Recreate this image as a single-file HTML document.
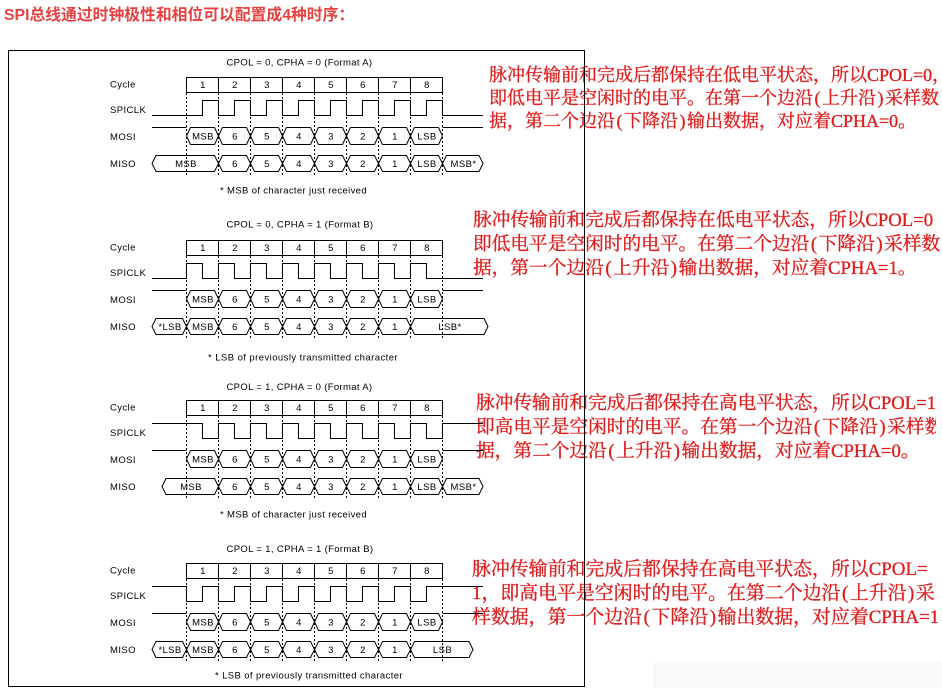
<!DOCTYPE html>
<html><head><meta charset="utf-8">
<style>
html,body{margin:0;padding:0;background:#fff;}
body{width:942px;height:688px;position:relative;overflow:hidden;}
.h{position:absolute;left:4px;top:6px;white-space:nowrap;font-family:"Liberation Sans","Noto Sans CJK SC",sans-serif;font-weight:bold;font-size:15.8px;line-height:20px;color:#e8413f;}
.r{position:absolute;white-space:nowrap;overflow:hidden;font-family:"Liberation Serif","Noto Serif CJK SC",serif;color:#e11d1d;-webkit-text-stroke:0.35px #e11d1d;line-height:24px;height:24px;}
.r .p{display:inline-block;width:0.5em;text-align:center;}
.b1{font-size:18px;left:489px;width:460px;}
.b2{font-size:18.7px;left:473px;width:470px;}
.b3{font-size:18.7px;left:476px;width:460px;}
.b4{font-size:18.9px;left:472px;width:466px;}
svg{position:absolute;left:0;top:0;}
svg text{font-family:"Liberation Sans",sans-serif;font-size:9.5px;fill:#000;letter-spacing:0.4px;}
.w{fill:none;stroke:#000;stroke-width:1;}
</style></head>
<body>
<div class="h">SPI总线通过时钟极性和相位可以配置成4种时序：</div>

<div class="r b1" style="top:63px">脉冲传输前和完成后都保持在低电平状态，所以CPOL=0，</div>
<div class="r b1" style="top:86px">即低电平是空闲时的电平。在第一个边沿<span class="p">(</span>上升沿<span class="p">)</span>采样数</div>
<div class="r b1" style="top:109px">据，第二个边沿<span class="p">(</span>下降沿<span class="p">)</span>输出数据，对应着CPHA=0。</div>

<div class="r b2" style="top:208.6px">脉冲传输前和完成后都保持在低电平状态，所以CPOL=0</div>
<div class="r b2" style="top:232.9px">即低电平是空闲时的电平。在第二个边沿<span class="p">(</span>下降沿<span class="p">)</span>采样数</div>
<div class="r b2" style="top:256.9px">据，第一个边沿<span class="p">(</span>上升沿<span class="p">)</span>输出数据，对应着CPHA=1。</div>

<div class="r b3" style="top:391.6px">脉冲传输前和完成后都保持在高电平状态，所以CPOL=1</div>
<div class="r b3" style="top:415.6px">即高电平是空闲时的电平。在第一个边沿<span class="p">(</span>下降沿<span class="p">)</span>采样数</div>
<div class="r b3" style="top:439.6px">据，第二个边沿<span class="p">(</span>上升沿<span class="p">)</span>输出数据，对应着CPHA=0。</div>

<div class="r b4" style="top:557.6px">脉冲传输前和完成后都保持在高电平状态，所以CPOL=</div>
<div class="r b4" style="top:581.6px">1，即高电平是空闲时的电平。在第二个边沿<span class="p">(</span>上升沿<span class="p">)</span>采</div>
<div class="r b4" style="top:605.6px">样数据，第一个边沿<span class="p">(</span>下降沿<span class="p">)</span>输出数据，对应着CPHA=1</div>

<svg width="942" height="688" viewBox="0 0 942 688">
<defs>
 <path id="ho" d="M0,0 L4,-8.5 H28 L32,0 L28,8.5 H4 Z"/>
 <path id="hi" d="M0,0 L4,-8 H28 L32,0 L28,8 H4 Z"/>
 <g id="m7">
  <use href="#hi" x="0" y="101.5"/><use href="#hi" x="32" y="101.5"/><use href="#hi" x="64" y="101.5"/>
  <use href="#hi" x="96" y="101.5"/><use href="#hi" x="128" y="101.5"/><use href="#hi" x="160" y="101.5"/>
  <use href="#hi" x="192" y="101.5"/>
 </g>
 <g id="frame">
  <rect x="186.5" y="15.5" width="256" height="15"/>
  <path d="M218.5,15.5V30.5 M250.5,15.5V30.5 M282.5,15.5V30.5 M314.5,15.5V30.5 M346.5,15.5V30.5 M378.5,15.5V30.5 M410.5,15.5V30.5"/>
  <path stroke-dasharray="2,2" d="M186.5,31V115 M218.5,31V115 M250.5,31V115 M282.5,31V115 M314.5,31V115 M346.5,31V115 M378.5,31V115 M410.5,31V115 M442.5,31V115"/>
  <path d="M152,65.5H186.5 M442.5,65.5H483"/>
  <use href="#ho" x="186.5" y="74"/><use href="#ho" x="218.5" y="74"/><use href="#ho" x="250.5" y="74"/>
  <use href="#ho" x="282.5" y="74"/><use href="#ho" x="314.5" y="74"/><use href="#ho" x="346.5" y="74"/>
  <use href="#ho" x="378.5" y="74"/><use href="#ho" x="410.5" y="74"/>
 </g>
</defs>

<rect class="w" x="8.5" y="50.5" width="576" height="636"/>

<!-- Section 1 -->
<g transform="translate(0,62)">
 <g class="w"><use href="#frame"/>
  <path d="M152,53.5 H202.5 V38.5 H218.5 V53.5 H234.5 V38.5 H250.5 V53.5 H266.5 V38.5 H282.5 V53.5 H298.5 V38.5 H314.5 V53.5 H330.5 V38.5 H346.5 V53.5 H362.5 V38.5 H378.5 V53.5 H394.5 V38.5 H410.5 V53.5 H426.5 V38.5 H442.5 V53.5 H483"/>
  <path d="M152,101.5 L156,93.5 H214.5 L218.5,101.5 L214.5,109.5 H156 Z"/>
  <use href="#m7" x="218.5"/>
  <path d="M442.5,101.5 L446.5,93.5 H479 L483,101.5 L479,109.5 H446.5 Z"/>
 </g>
 <text x="226.5" y="3.5" textLength="146" lengthAdjust="spacing">CPOL = 0, CPHA = 0 (Format A)</text>
 <text x="110" y="25.5">Cycle</text><text x="110" y="51">SPICLK</text><text x="110" y="78">MOSI</text><text x="110" y="105">MISO</text>
 <g text-anchor="middle">
  <text x="203" y="26">1</text><text x="235" y="26">2</text><text x="267" y="26">3</text><text x="299" y="26">4</text><text x="331" y="26">5</text><text x="363" y="26">6</text><text x="395" y="26">7</text><text x="427" y="26">8</text>
  <text x="203" y="77.5">MSB</text><text x="235" y="77.5">6</text><text x="267" y="77.5">5</text><text x="299" y="77.5">4</text><text x="331" y="77.5">3</text><text x="363" y="77.5">2</text><text x="395" y="77.5">1</text><text x="427" y="77.5">LSB</text>
  <text x="186" y="105">MSB</text><text x="235" y="105">6</text><text x="267" y="105">5</text><text x="299" y="105">4</text><text x="331" y="105">3</text><text x="363" y="105">2</text><text x="395" y="105">1</text><text x="427" y="105">LSB</text><text x="463.5" y="105">MSB*</text>
 </g>
 <text x="220" y="131.5" textLength="147" lengthAdjust="spacing">* MSB of character just received</text>
</g>

<!-- Section 2 -->
<g transform="translate(0,225)">
 <g class="w"><use href="#frame"/>
  <path d="M152,53.5 H186.5 V38.5 H202.5 V53.5 H218.5 V38.5 H234.5 V53.5 H250.5 V38.5 H266.5 V53.5 H282.5 V38.5 H298.5 V53.5 H314.5 V38.5 H330.5 V53.5 H346.5 V38.5 H362.5 V53.5 H378.5 V38.5 H394.5 V53.5 H410.5 V38.5 H426.5 V53.5 H483"/>
  <path d="M152,101.5 L156,93.5 H182.5 L186.5,101.5 L182.5,109.5 H156 Z"/>
  <use href="#m7" x="186.5"/>
  <path d="M410.5,101.5 L414.5,93.5 H484 L488,101.5 L484,109.5 H414.5 Z"/>
 </g>
 <text x="226.5" y="2.5" textLength="147" lengthAdjust="spacing">CPOL = 0, CPHA = 1 (Format B)</text>
 <text x="110" y="25.5">Cycle</text><text x="110" y="51">SPICLK</text><text x="110" y="78">MOSI</text><text x="110" y="105">MISO</text>
 <g text-anchor="middle">
  <text x="203" y="26">1</text><text x="235" y="26">2</text><text x="267" y="26">3</text><text x="299" y="26">4</text><text x="331" y="26">5</text><text x="363" y="26">6</text><text x="395" y="26">7</text><text x="427" y="26">8</text>
  <text x="203" y="77.5">MSB</text><text x="235" y="77.5">6</text><text x="267" y="77.5">5</text><text x="299" y="77.5">4</text><text x="331" y="77.5">3</text><text x="363" y="77.5">2</text><text x="395" y="77.5">1</text><text x="427" y="77.5">LSB</text>
  <text x="170" y="105">*LSB</text><text x="203" y="105">MSB</text><text x="235" y="105">6</text><text x="267" y="105">5</text><text x="299" y="105">4</text><text x="331" y="105">3</text><text x="363" y="105">2</text><text x="395" y="105">1</text><text x="450" y="105">LSB*</text>
 </g>
 <text x="208" y="135.5" textLength="190" lengthAdjust="spacing">* LSB of previously transmitted character</text>
</g>

<!-- Section 3 -->
<g transform="translate(0,385)">
 <g class="w"><use href="#frame"/>
  <path d="M152,38.5 H202.5 V53.5 H218.5 V38.5 H234.5 V53.5 H250.5 V38.5 H266.5 V53.5 H282.5 V38.5 H298.5 V53.5 H314.5 V38.5 H330.5 V53.5 H346.5 V38.5 H362.5 V53.5 H378.5 V38.5 H394.5 V53.5 H410.5 V38.5 H426.5 V53.5 H442.5 V38.5 H483"/>
  <path d="M162,101.5 L166,93.5 H214.5 L218.5,101.5 L214.5,109.5 H166 Z"/>
  <use href="#m7" x="218.5"/>
  <path d="M442.5,101.5 L446.5,93.5 H479 L483,101.5 L479,109.5 H446.5 Z"/>
 </g>
 <text x="226.5" y="5" textLength="146" lengthAdjust="spacing">CPOL = 1, CPHA = 0 (Format A)</text>
 <text x="110" y="25.5">Cycle</text><text x="110" y="51">SPICLK</text><text x="110" y="78">MOSI</text><text x="110" y="105">MISO</text>
 <g text-anchor="middle">
  <text x="203" y="26">1</text><text x="235" y="26">2</text><text x="267" y="26">3</text><text x="299" y="26">4</text><text x="331" y="26">5</text><text x="363" y="26">6</text><text x="395" y="26">7</text><text x="427" y="26">8</text>
  <text x="203" y="77.5">MSB</text><text x="235" y="77.5">6</text><text x="267" y="77.5">5</text><text x="299" y="77.5">4</text><text x="331" y="77.5">3</text><text x="363" y="77.5">2</text><text x="395" y="77.5">1</text><text x="427" y="77.5">LSB</text>
  <text x="191" y="105">MSB</text><text x="235" y="105">6</text><text x="267" y="105">5</text><text x="299" y="105">4</text><text x="331" y="105">3</text><text x="363" y="105">2</text><text x="395" y="105">1</text><text x="427" y="105">LSB</text><text x="463.5" y="105">MSB*</text>
 </g>
 <text x="220" y="132.5" textLength="147" lengthAdjust="spacing">* MSB of character just received</text>
</g>

<!-- Section 4 -->
<g transform="translate(0,548)">
 <g class="w"><use href="#frame"/>
  <path d="M152,38.5 H186.5 V53.5 H202.5 V38.5 H218.5 V53.5 H234.5 V38.5 H250.5 V53.5 H266.5 V38.5 H282.5 V53.5 H298.5 V38.5 H314.5 V53.5 H330.5 V38.5 H346.5 V53.5 H362.5 V38.5 H378.5 V53.5 H394.5 V38.5 H410.5 V53.5 H426.5 V38.5 H483"/>
  <path d="M152,101.5 L156,93.5 H182.5 L186.5,101.5 L182.5,109.5 H156 Z"/>
  <use href="#m7" x="186.5"/>
  <path d="M410.5,101.5 L414.5,93.5 H469 L473,101.5 L469,109.5 H414.5 Z"/>
 </g>
 <text x="226.5" y="4" textLength="147" lengthAdjust="spacing">CPOL = 1, CPHA = 1 (Format B)</text>
 <text x="110" y="25.5">Cycle</text><text x="110" y="51">SPICLK</text><text x="110" y="78">MOSI</text><text x="110" y="105">MISO</text>
 <g text-anchor="middle">
  <text x="203" y="26">1</text><text x="235" y="26">2</text><text x="267" y="26">3</text><text x="299" y="26">4</text><text x="331" y="26">5</text><text x="363" y="26">6</text><text x="395" y="26">7</text><text x="427" y="26">8</text>
  <text x="203" y="77.5">MSB</text><text x="235" y="77.5">6</text><text x="267" y="77.5">5</text><text x="299" y="77.5">4</text><text x="331" y="77.5">3</text><text x="363" y="77.5">2</text><text x="395" y="77.5">1</text><text x="427" y="77.5">LSB</text>
  <text x="170" y="105">*LSB</text><text x="203" y="105">MSB</text><text x="235" y="105">6</text><text x="267" y="105">5</text><text x="299" y="105">4</text><text x="331" y="105">3</text><text x="363" y="105">2</text><text x="395" y="105">1</text><text x="442.5" y="105">LSB</text>
 </g>
 <text x="215" y="130.5" textLength="188" lengthAdjust="spacing">* LSB of previously transmitted character</text>
</g>

<rect x="653" y="663" width="289" height="25" fill="#f8f8f8"/>
</svg>
</body></html>
